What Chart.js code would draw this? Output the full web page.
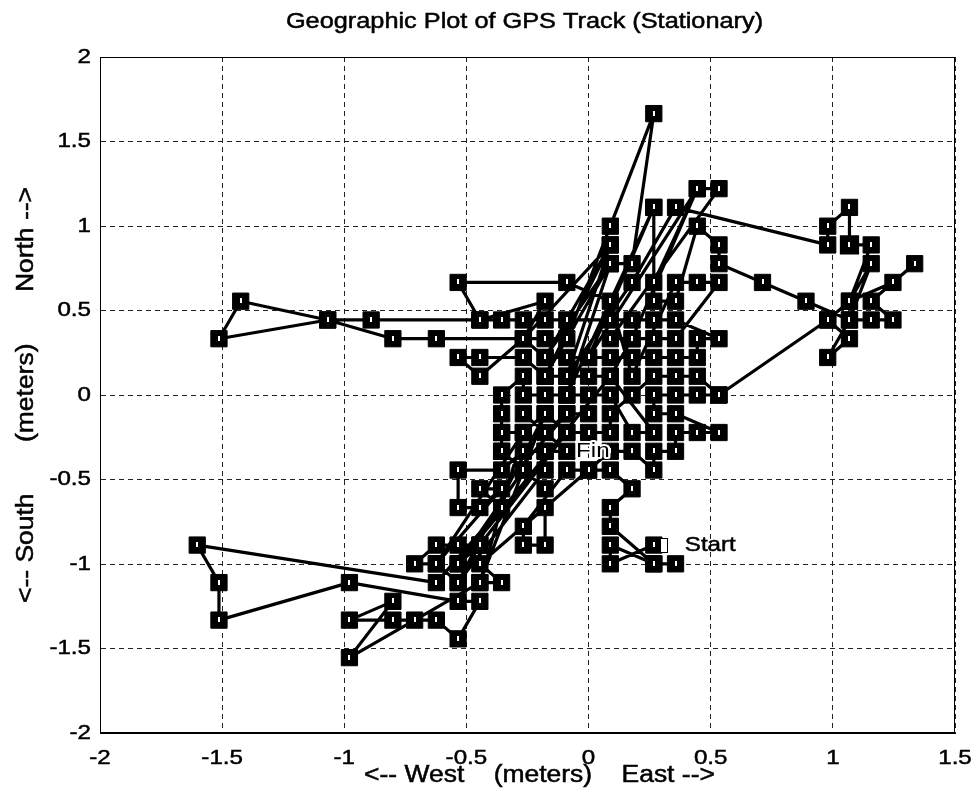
<!DOCTYPE html>
<html>
<head>
<meta charset="utf-8">
<title>Geographic Plot of GPS Track (Stationary)</title>
<script src="https://cdn.jsdelivr.net/npm/chart.js@4.4.1/dist/chart.umd.min.js"></script>
<style>
  html, body { margin: 0; padding: 0; background: #fff; }
  canvas { display: block; }
</style>
</head>
<body>
<canvas id="graficoGps" width="977" height="808"></canvas>
<script>
// === GPS track, meters east / north of the mean position (in recorded order) ===
const trackX = [
  0.267, 0.089, 0.089, 0.267, 0.356, 0.267, 0.089, 0.089, 0.178, 0.089,
  0, 0.089, 0.178, 0.267, 0.267, 0.356, 0.356, 0.445, 0.534, 0.356,
  0.267, 0.267, 0.356, 0.445, 0.534, 0.979, 1.068, 0.979, 1.068, 1.157,
  1.246, 1.157, 1.335, 1.246, 1.068, 0.979, 0.534, 0.445, 0.356, 0.267,
  0.178, 0.089, 0.089, 0, -0.089, -0.178, -0.267, -0.356, -0.356, -0.267,
  -0.534, -0.445, -0.534, -0.623, -0.712, -0.623, -0.534, -0.178, -0.178, -0.267,
  -0.356, -0.534, -0.534, -0.445, -0.356, -0.445, -0.356, -0.623, -1.602, -1.513,
  -1.513, -0.979, -0.534, -0.445, -0.534, -0.623, -0.712, -0.801, -0.979, -0.801,
  -0.979, -0.445, -0.356, -0.445, 0, -0.089, -0.267, -0.267, -0.178, -0.178,
  -0.178, -0.267, -0.356, -0.356, -0.356, -0.356, -0.267, -0.267, -0.178, -0.089,
  0, 0.089, 0.178, 0.267, 0.089, 0, -0.089, -0.178, -0.267, -0.445,
  -0.534, -0.445, -0.267, -0.178, -0.089, 0, 0.089, 0.178, 0.267, 0.356,
  0.445, 0.445, 0.534, 0.356, 0.267, 0.178, 0.089, -0.089, -0.178, -0.267,
  -0.356, -0.445, -0.890, -1.068, -1.424, -1.513, -1.068, -0.801, -0.623, -0.178,
  -0.089, 0.089, 0.267, 0.178, 0.089, -0.178, 0.089, -0.089, 0.178, 0.356,
  0.979, 0.979, 1.068, 1.068, 1.157, 1.068, 1.157, 1.068, 0.890, 0.712,
  0.534, 0.534, 0.445, 0.356, 0.267, 0.267, 0.267, 0.445, 0.534, 0.089,
  0.178, 0.267, 0.356, 0.534, 0.445, 0.356, 0.178, 0.089, -0.089, -0.534,
  -0.445, -0.178, -0.267,
  0.089, -0.178, 0.089, -0.089, 0.267, 0, 0.445, 0.178, 0.089,
  -0.534, -0.089, -0.445, -0.534, -0.178, -0.445, -0.267, -0.623, -0.089,
  0, -0.089, -0.178, -0.267, -0.089, -0.178
];
const trackY = [
  -0.888, -0.999, -0.888, -0.999, -0.999, -0.999, -0.777, -0.666, -0.555, -0.444,
  -0.444, -0.333, -0.333, -0.444, -0.333, -0.333, -0.222, -0.222, -0.222, -0.111,
  -0.111, 0, 0, 0, 0, 0.444, 0.333, 0.222, 0.444, 0.444,
  0.444, 0.555, 0.777, 0.666, 0.555, 0.444, 0, 0.111, 0.111, 0.111,
  0, -0.111, -0.222, -0.222, -0.222, -0.111, -0.222, -0.222, -0.333, -0.444,
  -0.999, -0.888, -0.888, -0.888, -0.999, -0.999, -1.110, -0.444, -0.333, -0.333,
  -0.444, -0.444, -0.666, -0.666, -0.555, -0.555, -0.666, -1.110, -0.888, -1.110,
  -1.332, -1.110, -1.221, -1.221, -1.443, -1.332, -1.332, -1.332, -1.332, -1.221,
  -1.554, -1.110, -1.110, -0.999, -0.444, -0.444, -0.777, -0.888, -0.888, -0.666,
  -0.555, -0.444, -0.333, -0.222, -0.111, 0, 0.111, 0, 0, 0,
  0, 0, -0.222, -0.222, 0.111, 0.111, 0.111, 0.111, 0.222, 0.222,
  0.222, 0.111, 0.333, 0.222, 0.222, 0.222, 0.222, 0.222, 0.222, 0.222,
  0.222, 0.333, 0.333, 0.444, 0.444, 0.444, 0.444, 0.444, 0.444, 0.444,
  0.444, 0.444, 0.444, 0.444, 0.555, 0.333, 0.444, 0.333, 0.333, 0.333,
  0.333, 0.999, 1.665, 0.777, 0.777, 0.222, 0.888, 0.111, 0.666, 1.110,
  0.888, 0.999, 1.110, 0.888, 0.888, 0.555, 0.777, 0.444, 0.555, 0.666,
  0.777, 0.888, 0.999, 0.555, 0.555, 1.110, 0.666, 1.221, 1.221, 0.333,
  0.333, 0.333, 0.333, 0.666, 0.666, 0.666, 0.111, 0.555, 0.666, 0.666,
  0.444, 0.555, 0.333,
  0.888, 0.111, 0.777, 0, 1.110, 0.222, 1.221, 0.333, 0.111,
  -0.999, -0.222, -0.888, -1.110, -0.111, -1.110, -0.222, -0.999, -0.111,
  -0.111, -0.111, -0.222, -0.111, -0.333, -0.333
];

// fix drawn as an open square in the original
const hollowX = [1.068];
const hollowY = [0.888];

// axis ticks
const xTicks = [-2, -1.5, -1, -0.5, 0, 0.5, 1, 1.5];
const yTicks = [-2, -1.5, -1, -0.5, 0, 0.5, 1, 1.5, 2];

// text placed on the track
const labelStart = { text: "Start", x: 0.267, y: -0.888 };
const labelFin = { text: "Fin", x: -0.178, y: -0.333 };

const titulo = "Geographic Plot of GPS Track (Stationary)";
const tituloX = "<-- West    (meters)    East -->";
const tituloY = "<-- South       (meters)       North -->";

// === Fuente: helvetica algo ancha, como la figura escaneada ===
const FUENTE = '"Liberation Sans", Arial, Helvetica, sans-serif';
const ESTIRA = 1.15;

function textoEstirado(ctx, texto, x, y, size, align, angle) {
  ctx.save();
  ctx.translate(x, y);
  if (angle) ctx.rotate(angle);
  ctx.scale(ESTIRA, 1);
  ctx.font = `${size}px ${FUENTE}`;
  ctx.textAlign = align;
  ctx.textBaseline = "middle";
  ctx.fillStyle = "#000";
  ctx.strokeStyle = "#000";
  ctx.lineWidth = 0.5;
  ctx.fillText(texto, 0, 0);
  ctx.strokeText(texto, 0, 0);
  ctx.restore();
}

// little white mark inside every marker (the point numbers of the original)
const marcasPuntos = {
  id: "marcasPuntos",
  afterDatasetDraw(chart, args) {
    if (args.index !== 0) return;
    const ctx = chart.ctx;
    ctx.save();
    ctx.fillStyle = "#fff";
    args.meta.data.forEach(p => {
      const x = Math.round(p.x), y = Math.round(p.y);
      ctx.fillRect(x - 1, y - 3, 2, 5);
    });
    ctx.restore();
  }
};

// titles, tick labels, box and track labels
const textos = {
  id: "textos",
  afterDraw(chart) {
    const ctx = chart.ctx;
    const area = chart.chartArea;
    const sx = chart.scales.x;
    const sy = chart.scales.y;

    // box round the axes
    ctx.save();
    ctx.strokeStyle = "#000";
    ctx.lineWidth = 1;
    ctx.strokeRect(area.left + 0.5, area.top + 0.5, area.right - area.left - 1, area.bottom - area.top - 1);
    ctx.restore();

    sx.ticks.forEach(t => {
      textoEstirado(ctx, String(t.value), sx.getPixelForValue(t.value), area.bottom + 25, 21, "center");
    });
    sy.ticks.forEach(t => {
      textoEstirado(ctx, String(t.value), area.left - 9, sy.getPixelForValue(t.value), 21, "right");
    });

    textoEstirado(ctx, titulo, (area.left + area.right) / 2 - 3, 22, 22, "center");
    textoEstirado(ctx, tituloX, (area.left + area.right) / 2 + 12, area.bottom + 43, 23, "center");
    textoEstirado(ctx, tituloY, 27, (area.top + area.bottom) / 2, 23, "center", -Math.PI / 2);

    // Start: open box glyph plus text
    const px = sx.getPixelForValue(labelStart.x);
    const py = sy.getPixelForValue(labelStart.y);
    ctx.save();
    ctx.strokeStyle = "#000";
    ctx.lineWidth = 1;
    ctx.fillStyle = "#fff";
    ctx.fillRect(Math.round(px) + 6, Math.round(py) - 7, 7, 14);
    ctx.strokeRect(Math.round(px) + 6.5, Math.round(py) - 6.5, 7, 14);
    ctx.restore();
    textoEstirado(ctx, labelStart.text, px + 31, py, 21, "left");

    // Fin sits in the middle of the cluster
    const fx = sx.getPixelForValue(labelFin.x) + 31;
    const fy = sy.getPixelForValue(labelFin.y);
    ctx.save();
    ctx.translate(fx, fy);
    ctx.scale(ESTIRA, 1);
    ctx.font = `21px ${FUENTE}`;
    ctx.textAlign = "left";
    ctx.textBaseline = "middle";
    ctx.lineWidth = 4;
    ctx.strokeStyle = "#fff";
    ctx.lineJoin = "round";
    ctx.strokeText(labelFin.text, 0, 0);
    ctx.fillStyle = "#000";
    ctx.fillText(labelFin.text, 0, 0);
    ctx.restore();
  }
};

// === Gráfico ===
function generarGraficoGps() {
  const ctx = document.getElementById("graficoGps");
  if (!ctx) return;

  const puntos = trackX.map((x, i) => ({ x, y: trackY[i] }));
  const abiertos = hollowX.map((x, i) => ({ x, y: hollowY[i] }));

  new Chart(ctx, {
    type: "scatter",
    data: {
      datasets: [
        {
          label: "Track",
          data: puntos,
          showLine: true,
          borderColor: "#000",
          borderWidth: 3.2,
          borderJoinStyle: "round",
          tension: 0,
          pointStyle: "rect",
          pointRadius: 11.5,
          pointBorderWidth: 1,
          pointBackgroundColor: "#000",
          pointBorderColor: "#000"
        },
        {
          label: "Open fix",
          data: abiertos,
          showLine: false,
          pointStyle: "rect",
          pointRadius: 11.5,
          pointBorderWidth: 3,
          pointBackgroundColor: "#fff",
          pointBorderColor: "#000"
        }
      ]
    },
    options: {
      responsive: false,
      animation: false,
      events: [],
      layout: { padding: { top: 57, right: 22, left: 0, bottom: 0 } },
      plugins: {
        legend: { display: false },
        tooltip: { enabled: false },
        title: { display: false }
      },
      scales: {
        x: {
          type: "linear",
          min: -2,
          max: 1.5,
          afterBuildTicks: s => { s.ticks = xTicks.map(v => ({ value: v })); },
          afterFit: s => { s.height = 75; },
          ticks: { display: false },
          grid: { color: "#222", lineWidth: 1, drawTicks: false },
          border: { display: true, color: "#000", width: 1, dash: [5, 4] }
        },
        y: {
          type: "linear",
          min: -2,
          max: 2,
          afterBuildTicks: s => { s.ticks = yTicks.map(v => ({ value: v })); },
          afterFit: s => { s.width = 100; },
          ticks: { display: false },
          grid: { color: "#222", lineWidth: 1, drawTicks: false },
          border: { display: true, color: "#000", width: 1, dash: [5, 4] }
        }
      }
    },
    plugins: [marcasPuntos, textos]
  });
}

document.addEventListener("DOMContentLoaded", generarGraficoGps);
</script>
</body>
</html>
